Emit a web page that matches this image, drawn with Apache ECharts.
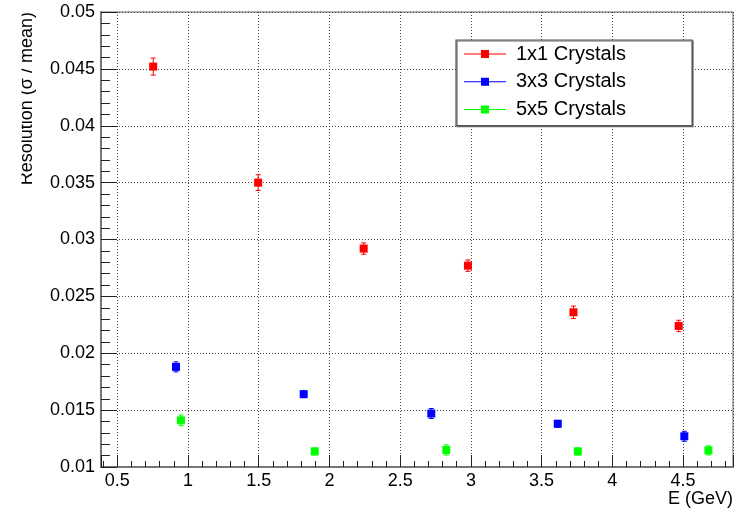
<!DOCTYPE html>
<html>
<head>
<meta charset="utf-8">
<script src="https://cdn.jsdelivr.net/npm/echarts@6/dist/echarts.min.js"></script>
<style>html,body{margin:0;padding:0;background:#fff}#c{width:742px;height:511px}</style>
</head>
<body>
<div id="c"></div>
<script>
// ---- data ----
const seriesNames = ['1x1 Crystals', '3x3 Crystals', '5x5 Crystals'];
const e1x1 = [0.754, 1.496, 2.242, 2.979, 3.725, 4.469];
const r1x1 = [0.0452, 0.0350, 0.0292, 0.0277, 0.0236, 0.0224];
const err1x1 = [0.00075, 0.00069, 0.0005, 0.0005, 0.00055, 0.0005];
const e3x3 = [0.915, 1.818, 2.720, 3.614, 4.509];
const r3x3 = [0.0188, 0.0164, 0.0147, 0.0138, 0.0127];
const err3x3 = [0.00044, 0.0003, 0.00044, 0.0003, 0.00044];
const e5x5 = [0.950, 1.896, 2.826, 3.756, 4.679];
const r5x5 = [0.0141, 0.01137, 0.0115, 0.01137, 0.01146];
const err5x5 = [0.00047, 0.0003, 0.00045, 0.0003, 0.0004];
const xTicks = [0.5, 1, 1.5, 2, 2.5, 3, 3.5, 4, 4.5];
const xTitle = 'E (GeV)';
const yTitle = 'Resolution (\u03c3 / mean)';

const colors = ['#ff0000', '#0000ff', '#00ff00'];
const groups = [[e1x1, r1x1, err1x1], [e3x3, r3x3, err3x3], [e5x5, r5x5, err5x5]];
const FONT = '"Liberation Sans", Arial, Helvetica, sans-serif';

const series = [];
groups.forEach((g, k) => {
  const pts = g[0].map((x, i) => [x, g[1][i], g[2][i]]);
  series.push({
    type: 'custom', name: seriesNames[k] + ' err', silent: true, z: 3,
    renderItem: function (params, api) {
      const x = api.value(0), y = api.value(1), e = api.value(2);
      const lo = api.coord([x, y - e]), hi = api.coord([x, y + e]);
      const c = colors[k];
      const st = { stroke: c, lineWidth: 1 };
      return { type: 'group', children: [
        { type: 'line', shape: { x1: lo[0], y1: lo[1], x2: hi[0], y2: hi[1] }, style: st },
        { type: 'line', shape: { x1: lo[0] - 2.5, y1: lo[1], x2: lo[0] + 2.5, y2: lo[1] }, style: st },
        { type: 'line', shape: { x1: hi[0] - 2.5, y1: hi[1], x2: hi[0] + 2.5, y2: hi[1] }, style: st }
      ]};
    },
    encode: { x: 0, y: 1 },
    data: pts
  });
  series.push({
    type: 'scatter', name: seriesNames[k], symbol: 'rect', symbolSize: 8, z: 4,
    itemStyle: { color: colors[k], opacity: 1 },
    data: pts.map(p => [p[0], p[1]])
  });
});

const iconPath = 'path://M0,3.5L42,3.5L42,4.5L0,4.5Z M17,0L25,0L25,8L17,8Z';

const chart = echarts.init(document.getElementById('c'), null, { renderer: 'canvas' });
chart.setOption({
  animation: false,
  backgroundColor: '#fff',
  grid: { left: 101, right: 9, top: 12, bottom: 44, show: true, borderColor: '#666', borderWidth: 1, backgroundColor: 'transparent' },
  legend: {
    orient: 'vertical', left: 456, top: 40,
    data: seriesNames.map(n => ({ name: n, icon: iconPath })),
    itemWidth: 42, itemHeight: 8, itemGap: 7.8,
    padding: [4, 66, 6, 8],
    borderColor: '#555', borderWidth: 1.2,
    shadowColor: '#666', shadowOffsetX: 1, shadowOffsetY: 1, shadowBlur: 0,
    backgroundColor: '#fff',
    selectedMode: false,
    textStyle: { fontFamily: FONT, fontSize: 20, color: '#000', padding: [0, 0, 0, 5] }
  },
  xAxis: {
    type: 'value', min: 0.385, max: 4.853, splitNumber: 9,
    axisLine: { show: true, onZero: false, lineStyle: { color: '#777', width: 2 } },
    axisTick: { show: true, inside: true, length: 12, lineStyle: { color: '#222', width: 1 } },
    minorTick: { show: true, splitNumber: 5, length: 6, lineStyle: { color: '#222', width: 1 } },
    splitLine: { show: true, lineStyle: { color: '#444', width: 1, type: [1, 2] } },
    axisLabel: { showMinLabel: false, showMaxLabel: false, margin: 5, fontFamily: FONT, fontSize: 18, color: '#000',
      formatter: v => (xTicks.indexOf(parseFloat(v.toFixed(3))) >= 0 ? String(parseFloat(v.toFixed(3))) : '') }
  },
  yAxis: {
    type: 'value', min: 0.01, max: 0.05, interval: 0.005,
    axisLine: { show: true, onZero: false, lineStyle: { color: '#777', width: 2 } },
    axisTick: { show: true, inside: true, length: 16, lineStyle: { color: '#222', width: 1 } },
    minorTick: { show: true, splitNumber: 5, length: 9, lineStyle: { color: '#222', width: 1 } },
    splitLine: { show: true, lineStyle: { color: '#444', width: 1, type: [1, 2] } },
    axisLabel: { margin: 6, fontFamily: FONT, fontSize: 18, color: '#000',
      formatter: v => String(parseFloat(v.toFixed(4))) }
  },
  graphic: [
    { type: 'text', x: 733, y: 499, z: 50,
      style: { text: xTitle, fontFamily: FONT, fontSize: 18, fill: '#000', align: 'right', verticalAlign: 'middle' } },
    { type: 'text', x: 27, y: 12, rotation: Math.PI / 2, z: 50,
      style: { text: yTitle, fontFamily: FONT, fontSize: 18, fill: '#000', align: 'right', verticalAlign: 'middle' } },
    { type: 'rect', shape: { x: 0, y: 0, width: 21.5, height: 511 }, z: 60,
      style: { fill: '#fff' } }
  ],
  series: series
});
</script>
</body>
</html>
